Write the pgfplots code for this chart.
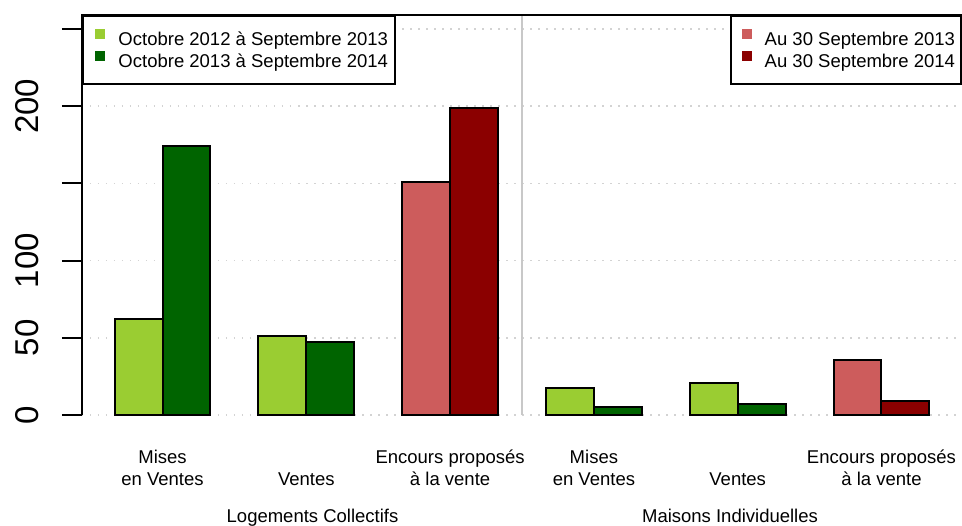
\documentclass[border=0pt]{standalone}
\usepackage{fontspec}
\setmainfont{Liberation Sans}
\usepackage{pgfplots}
\pgfplotsset{compat=1.18}
\definecolor{lg}{HTML}{9ACD32}
\definecolor{dg}{HTML}{006400}
\definecolor{lr}{HTML}{CD5C5C}
\definecolor{dr}{HTML}{8B0000}
\definecolor{gridc}{HTML}{D3D3D3}
\definecolor{sepc}{HTML}{C8C8C8}
\newcommand{\lfont}{\fontsize{18.5}{22}\selectfont}
\pgfplotsset{
  base/.style={
    at={(0pt,0pt)}, anchor=south west,
    scale only axis, width=880pt, height=400pt,
    xmin=0.32, xmax=18.68, ymin=0, ymax=259.1,
    axis line style={draw=none},
    clip=false,
    legend cell align=left,
    legend style={draw=black, line width=2pt, font=\lfont,
      inner xsep=7.5pt, inner ysep=12pt, row sep=0pt,
      nodes={inner sep=0pt, text height=18pt, text depth=4pt}},
  },
  sq/.style={legend image code/.code={
      \path[draw=none,fill=none] (0pt,0pt) rectangle (28pt,1pt);
      \fill[##1,draw=none] (5pt,-0.5pt) rectangle (15pt,9.5pt);}},
  barsty/.style={ybar, bar width=1, bar shift=0pt, draw=black, line width=2pt, sq},
}
\begin{document}
\begin{tikzpicture}
\begin{axis}[base,
  ytick={0,50,100,150,200,250}, yticklabels={0,50,100,,200,},
  ytick pos=left,
  ymajorgrids, grid style={gridc, line width=1.5pt, dash pattern=on 1.5pt off 6.5pt},
  tick align=outside, major tick length=20pt,
  ytick style={black, line width=2pt},
  yticklabel style={font=\fontsize{33}{33}\selectfont, rotate=90, anchor=south, inner sep=0pt, yshift=23pt},
  xtick={2,5,8,11,14,17},
  xticklabels={{\strut Mises\\en Ventes},{\strut\\Ventes},{\strut Encours proposés\\à la vente},
                {\strut Mises\\en Ventes},{\strut\\Ventes},{\strut Encours proposés\\à la vente}},
  xtick style={draw=none},
  xticklabel style={font=\lfont, align=center, anchor=north, inner sep=0pt, yshift=-13pt},
  legend style={at={(0,1)}, anchor=north west},
]
\addplot[barsty, fill=lg] coordinates {(1.5,62) (4.5,51) (10.5,17.5) (13.5,20.5)};
\addlegendentry{Octobre 2012 à Septembre 2013}
\addplot[barsty, fill=dg] coordinates {(2.5,174) (5.5,47) (11.5,5.5) (14.5,7)};
\addlegendentry{Octobre 2013 à Septembre 2014}
\draw[sepc, line width=1.5pt] (axis cs:9.5,0) -- (axis cs:9.5,259.1);
\draw[black, line width=2pt] (rel axis cs:0,0) -- (rel axis cs:0,1) -- (rel axis cs:1,1);
\node[font=\lfont, anchor=base, yshift=-108pt] at (axis cs:5.13,0) {Logements Collectifs};
\node[font=\lfont, anchor=base, yshift=-108pt] at (axis cs:13.84,0) {Maisons Individuelles};
\end{axis}
\begin{axis}[base, hide axis,
  legend style={at={(1,1)}, anchor=north east, inner xsep=6pt},
]
\addplot[barsty, fill=lr] coordinates {(7.5,151) (16.5,35.5)};
\addlegendentry{Au 30 Septembre 2013}
\addplot[barsty, fill=dr] coordinates {(8.5,199) (17.5,9.3)};
\addlegendentry{Au 30 Septembre 2014}
\end{axis}
\pgfresetboundingbox
\useasboundingbox (-82pt,-111pt) rectangle (880pt,415pt);
\end{tikzpicture}
\end{document}
